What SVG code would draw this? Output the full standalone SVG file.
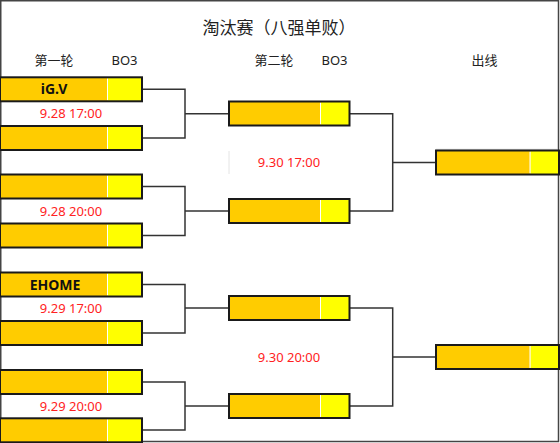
<svg xmlns="http://www.w3.org/2000/svg" width="560" height="443" viewBox="0 0 560 443">
<style>
.o{fill:#FFCC00}
.y{fill:#FFFF00}
.b{fill:none;stroke:#1a1a1a;stroke-width:2}
.sp{stroke:#fff;stroke-width:1}
.c{fill:none;stroke:#333;stroke-width:1.5}
.h{font-family:"Noto Sans","Noto Sans CJK SC",sans-serif;font-size:13px;fill:#222;text-anchor:middle}
.r{font-family:"Noto Sans","Noto Sans CJK SC",sans-serif;font-size:13px;fill:#f22;text-anchor:middle}
.n{font-family:"Noto Sans","Noto Sans CJK SC",sans-serif;font-size:14px;font-weight:bold;fill:#111;text-anchor:middle}
</style>
<defs>
<g id="box1"><rect class="o" x="0" y="0" width="108" height="24"/><rect class="y" x="108" y="0" width="34" height="24"/><line class="sp" x1="107.5" y1="1" x2="107.5" y2="23"/><rect class="b" x="0" y="0" width="142" height="24"/></g>
<g id="box2"><rect class="o" x="0" y="0" width="92" height="24"/><rect class="y" x="92" y="0" width="28.5" height="24"/><line class="sp" x1="91.5" y1="1" x2="91.5" y2="23"/><rect class="b" x="0" y="0" width="120.5" height="24"/></g>
<g id="box3"><rect class="o" x="0" y="0" width="94.5" height="24"/><rect class="y" x="94.5" y="0" width="28.5" height="24"/><line class="sp" x1="94" y1="1" x2="94" y2="23"/><rect class="b" x="0" y="0" width="123" height="24"/></g>
</defs>
<rect x="0.75" y="0.75" width="557.75" height="440.75" fill="#fff" stroke="#444" stroke-width="1.5"/>
<line x1="436" y1="149.3" x2="558" y2="149.3" stroke="#ccc" stroke-width="0.8"/>
<line x1="229" y1="151" x2="229" y2="174" stroke="#ddd" stroke-width="0.8"/>
<g id="header">
<text x="279" y="34" font-family="Noto Sans CJK SC,sans-serif" font-size="17" fill="#222" text-anchor="middle">淘汰赛（八强单败）</text>
<text class="h" x="54" y="64.5">第一轮</text>
<text class="h" x="124.5" y="64.5">BO3</text>
<text class="h" x="274" y="64.5">第二轮</text>
<text class="h" x="334.5" y="64.5">BO3</text>
<text class="h" x="484.5" y="64.5">出线</text>
</g>
<g id="connectors">
<path class="c" d="M142 89.3H185V138H142M185 113.7H229"/>
<path class="c" d="M142 186.5H185V235.5H142M185 211H229"/>
<path class="c" d="M142 284.5H185V333H142M185 308H229"/>
<path class="c" d="M142 382H185V430H142M185 406H229"/>
<path class="c" d="M349 113.7H392.7V211H349M392.7 162.5H436"/>
<path class="c" d="M349 308H392.7V406H349M392.7 357H436"/>
</g>
<g id="r1m1a"><use href="#box1" x="0" y="77.3"/><text class="n" x="54" y="94.3">iG.V</text></g>
<g id="r1m1b"><use href="#box1" x="0" y="126"/></g>
<g id="r1m2a"><use href="#box1" x="0" y="174.5"/></g>
<g id="r1m2b"><use href="#box1" x="0" y="223.5"/></g>
<g id="r1m3a"><use href="#box1" x="0" y="272.5"/><text class="n" x="55" y="289.5">EHOME</text></g>
<g id="r1m3b"><use href="#box1" x="0" y="321"/></g>
<g id="r1m4a"><use href="#box1" x="0" y="370"/></g>
<g id="r1m4b"><use href="#box1" x="0" y="418.3"/></g>
<g id="r2m1a"><use href="#box2" x="229" y="101.5"/></g>
<g id="r2m1b"><use href="#box2" x="229" y="199"/></g>
<g id="r2m2a"><use href="#box2" x="229" y="296"/></g>
<g id="r2m2b"><use href="#box2" x="229" y="394"/></g>
<g id="final1"><use href="#box3" x="436" y="150.5"/></g>
<g id="final2"><use href="#box3" x="436" y="345"/></g>
<g id="dates">
<text class="r" x="71" y="118.3">9.28 17:00</text>
<text class="r" x="71" y="215.5">9.28 20:00</text>
<text class="r" x="71" y="312.5">9.29 17:00</text>
<text class="r" x="71" y="410.5">9.29 20:00</text>
<text class="r" x="289" y="166.8">9.30 17:00</text>
<text class="r" x="289" y="361.5">9.30 20:00</text>
</g>
</svg>
